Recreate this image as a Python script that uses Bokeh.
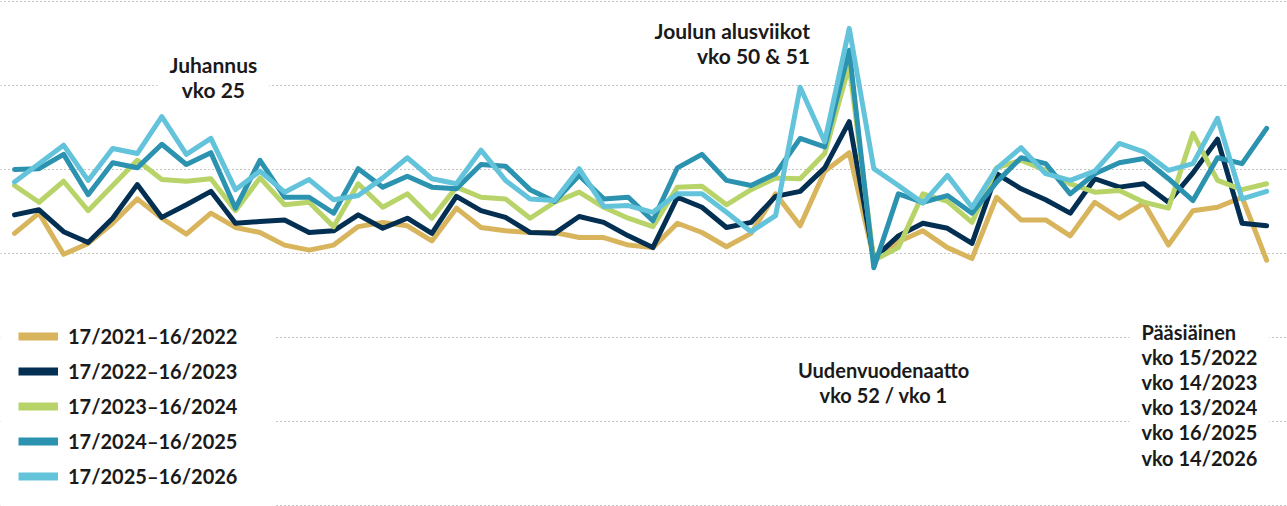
from bokeh.plotting import figure
from bokeh.models import (Range1d, FixedTicker, Legend, LegendItem, Label,
                          ColumnDataSource, BoxAnnotation)
from bokeh.embed import file_html
from bokeh.resources import INLINE

weeks = list(range(17, 53)) + list(range(1, 17))

s2021 = [102.4, 104.8, 99.9, 101.2, 103.6, 106.5, 104.2, 102.3, 104.8, 103.1,
         102.5, 101.0, 100.4, 101.0, 103.2, 103.7, 103.3, 101.5, 105.4, 103.1,
         102.7, 102.5, 102.5, 101.9, 101.9, 101.0, 100.7, 103.6, 102.5, 100.8,
         102.4, 107.1, 103.3, 109.8, 112.0, 99.4, 101.4, 102.7, 100.7, 99.4,
         106.7, 104.0, 104.0, 102.1, 106.1, 104.2, 106.0, 101.0, 105.1, 105.5,
         106.7, 99.2]
s2022 = [104.6, 105.2, 102.6, 101.3, 104.2, 108.2, 104.3, 105.8, 107.4, 103.6,
         103.8, 104.0, 102.5, 102.7, 104.6, 103.0, 104.2, 102.4, 106.8, 105.1,
         104.3, 102.5, 102.4, 104.4, 103.7, 102.1, 100.7, 106.7, 105.5, 103.1,
         103.7, 106.8, 107.4, 110.2, 115.7, 99.4, 102.1, 103.6, 103.0, 101.2,
         109.5, 107.7, 106.4, 104.8, 108.9, 107.9, 108.3, 106.1, 109.6, 113.6,
         103.6, 103.3]
s2023 = [108.1, 106.1, 108.6, 105.1, 108.1, 111.1, 108.8, 108.6, 108.9, 105.1,
         109.0, 105.8, 106.1, 103.2, 108.3, 105.5, 107.1, 104.2, 107.9, 106.7,
         106.5, 104.2, 106.1, 107.3, 105.5, 104.2, 103.2, 107.9, 108.0, 105.8,
         107.6, 109.0, 108.9, 111.9, 122.4, 99.2, 100.7, 107.1, 106.2, 103.7,
         110.2, 111.1, 109.9, 108.3, 107.3, 107.5, 106.1, 105.4, 114.3, 108.7,
         107.6, 108.3]
s2024 = [110.0, 110.1, 111.8, 107.0, 110.8, 110.2, 113.0, 110.6, 112.0, 105.4,
         111.1, 106.7, 106.7, 104.8, 110.1, 107.9, 109.2, 107.9, 107.7, 110.6,
         110.4, 107.6, 106.2, 109.3, 106.5, 106.7, 103.9, 110.2, 111.8, 108.7,
         108.1, 109.5, 113.7, 112.7, 124.2, 98.3, 107.1, 106.1, 106.9, 104.8,
         108.5, 111.4, 110.7, 107.1, 109.5, 110.8, 111.3, 108.9, 106.3, 111.4,
         110.7, 114.9]
s2025 = [108.5, 110.7, 112.9, 108.7, 112.5, 111.9, 116.3, 111.8, 113.7, 107.6,
         109.8, 107.3, 108.8, 106.4, 106.9, 109.0, 111.4, 108.9, 108.3, 112.3,
         108.7, 106.5, 106.3, 110.1, 105.6, 105.7, 104.9, 107.1, 107.1, 104.9,
         102.6, 104.5, 119.8, 113.3, 126.8, 110.1, 108.1, 106.0, 109.3, 105.5,
         110.1, 112.6, 109.5, 108.7, 109.8, 113.1, 112.1, 109.9, 110.7, 116.1,
         106.5, 107.4]

series_labels = ["17/2021\u201316/2022", "17/2022\u201316/2023", "17/2023\u201316/2024",
                 "17/2024\u201316/2025", "17/2025\u201316/2026"]
series_values = [s2021, s2022, s2023, s2024, s2025]
colors = ["#D8B45C", "#032F52", "#B8D468", "#2B93B0", "#63C3DB"]

grid_levels = [70, 80, 90, 100, 110, 120, 130]

FONT = "Lato"
TXT = "#1a1a1a"

p = figure(width=1287, height=506, output_backend="svg", toolbar_location=None,
           x_range=Range1d(-0.570, 51.85), y_range=Range1d(69.88, 130.12),
           x_axis_location=None, y_axis_location=None, min_border=0,
           outline_line_color=None, background_fill_color="white",
           border_fill_color="white")
p.xgrid.visible = False
p.ygrid.ticker = FixedTicker(ticks=grid_levels)
p.ygrid.grid_line_color = "#8a8a8a"
p.ygrid.grid_line_dash = "1 3"
p.ygrid.grid_line_width = 1

xs = list(range(len(weeks)))
items = []
for lab, vals, col in zip(series_labels, series_values, colors):
    src = ColumnDataSource(dict(x=xs, y=vals, week=weeks))
    p.line("x", "y", source=src, line_color=col, line_width=5,
           line_join="round", line_cap="round")
    # legend swatch only: a single undefined point draws nothing on the plot
    proxy = p.line(x=[xs[0]], y=[float("nan")], line_color=col, line_width=8,
                   line_cap="butt")
    items.append(LegendItem(label=lab, renderers=[proxy]))

# white panel behind the legend (hides the dotted grid there)
p.add_layout(BoxAnnotation(right=10.63, top=94.4, fill_color="white",
                           fill_alpha=1.0, line_color=None))

legend = Legend(items=items, location=(18, 18), orientation="vertical",
                padding=0, spacing=11, margin=0,
                glyph_width=40, glyph_height=22, label_height=22, label_width=177,
                label_standoff=10, label_text_font=FONT, label_text_font_style="bold",
                label_text_font_size="20px", label_text_color=TXT,
                border_line_color=None, background_fill_color="white",
                background_fill_alpha=1.0)
p.add_layout(legend)

def add_label(x, y, text, align, size, lh):
    lbl = Label(x=x, y=y, text=text, text_align=align, text_baseline="middle",
                text_font=FONT, text_font_style="bold", text_font_size=size,
                text_color=TXT, text_line_height=lh,
                background_fill_color="white", background_fill_alpha=1.0,
                padding=12)
    p.add_layout(lbl)

add_label(8.1, 121.0, "Juhannus\nvko 25", "center", "21px", 0.97)
add_label(32.89, 125.1, "Joulun alusviikot\nvko 50 & 51", "right", "21px", 1.0)
add_label(35.4, 84.6, "Uudenvuodenaatto\nvko 52 / vko 1", "center", "20px", 1.05)
add_label(45.41, 83.2, "P\u00e4\u00e4si\u00e4inen\nvko 15/2022\nvko 14/2023\nvko 13/2024\nvko 16/2025\nvko 14/2026", "left", "20px", 1.05)

open("out.html", "w").write(file_html(p, INLINE))
